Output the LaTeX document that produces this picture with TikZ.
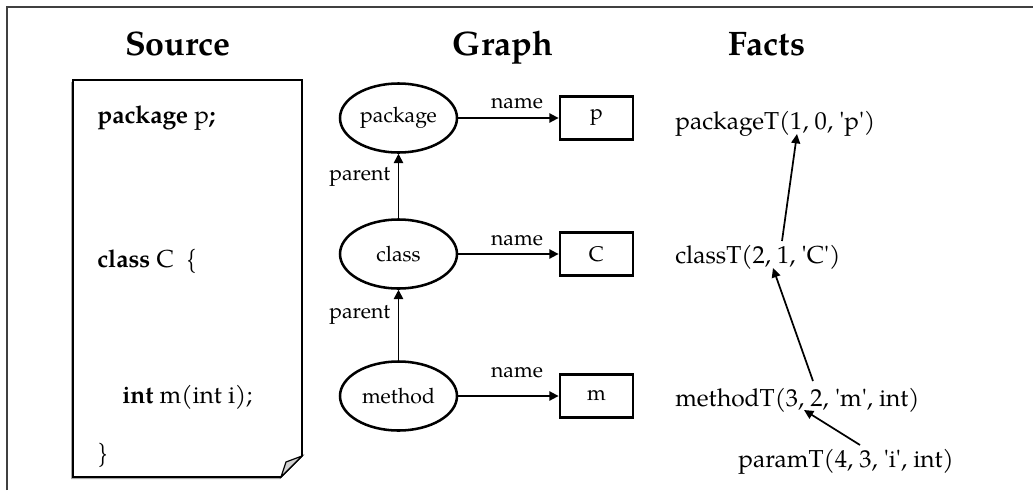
\documentclass[tikz,border=0pt]{standalone}
\usepackage{fontspec}
\setmainfont{texgyrepagella}[Extension=.otf,UprightFont=*-regular,BoldFont=*-bold,ItalicFont=*-italic,BoldItalicFont=*-bolditalic,Ligatures=TeXOff]
\usetikzlibrary{shapes.geometric,arrows.meta}
\newdimen\pxu \pxu=0.75pt
\definecolor{foldgray}{HTML}{D2D2D2}
\definecolor{shadowgray}{HTML}{A8A8A8}
\begin{document}
\begin{tikzpicture}[x=0.75pt,y=-0.75pt,
  ttl/.style={inner sep=0pt, anchor=base, font=\fontsize{25.5}{30}\selectfont\bfseries},
  txt/.style={inner sep=0pt, anchor=base west, font=\fontsize{18.4}{22}\selectfont},
  lbl/.style={inner sep=0pt, font=\fontsize{15.9}{18}\selectfont},
  ent/.style={ellipse, draw, line width=1.9pt, minimum width=117\pxu, minimum height=69\pxu, inner sep=0pt, font=\fontsize{15.9}{18}\selectfont},
  val/.style={rectangle, draw, line width=2.1pt, minimum width=73\pxu, minimum height=43\pxu, inner sep=0pt, font=\fontsize{15.9}{18}\selectfont},
  arr/.style={line width=1.3pt, -{Triangle[length=7pt,width=7pt]}},
  farr/.style={line width=1.3pt, -{Triangle[length=7pt,width=6.6pt]}}]
\useasboundingbox (0,0) rectangle (1033,490);

% outer frame (top and left edges)
\draw[line width=1.6pt, black!75] (7,490) -- (7,7) -- (1033,7);

% titles
\node[ttl] (tsrc) at (178,55) {Source};
\node[ttl] (tgraph) at (503,55) {Graph};
\node[ttl] (tfacts) at (767,55) {Facts};

% source sheet with folded corner
\fill[shadowgray] (71,82) -- (300,82) -- (300,458) -- (279,479) -- (71,479) -- cycle;
\draw[line width=1.3pt, fill=white] (73,80) -- (302,80) -- (302,456) -- (281,477) -- (73,477) -- cycle;
\draw[line width=0.9pt, fill=foldgray] (302,456) -- (286,462) -- (281,477) -- cycle;

\node[txt] (s1) at (97,123) {\textbf{package} p\textbf{;}};
\node[txt] (s2) at (97,267) {\textbf{class} C\ \ \{};
\node[txt] (s3) at (122,403) {\textbf{int} m(int i);};
\node[txt] (s4) at (97,461) {\}};

% graph
\node[ent] (pkg) at (398.5,118) {package};
\node[ent] (cls) at (398.5,254) {class};
\node[ent] (mth) at (398.5,396) {method};
\node[val] (vp) at (596.5,118) {p};
\node[val] (vc) at (596.5,254) {C};
\node[val] (vm) at (596.5,396) {m};

\draw[arr] (pkg) -- (vp);
\draw[arr] (cls) -- (vc);
\draw[arr] (mth) -- (vm);
\draw[arr] (cls) -- (pkg);
\draw[arr] (mth) -- (cls);

\node[lbl, anchor=base] (n1) at (517,108) {name};
\node[lbl, anchor=base] (n2) at (517,245) {name};
\node[lbl, anchor=base] (n3) at (517,377) {name};
\node[lbl, anchor=base west] (p1) at (329,180) {parent};
\node[lbl, anchor=base west] (p2) at (329,318) {parent};

% facts
\node[txt] (fpkg) at (675,129) {packageT(1, 0, 'p')};
\node[txt] (fcls) at (675,263) {classT(2, 1, 'C')};
\node[txt] (fmth) at (675,406) {methodT(3, 2, 'm', int)};
\node[txt] (fpar) at (738,467) {paramT(4, 3, 'i', int)};

\coordinate (c1s) at (782,241);
\coordinate (c1e) at (797,134);
\coordinate (c2s) at (813,381);
\coordinate (c2e) at (773,268);
\coordinate (c3s) at (860,445);
\coordinate (c3e) at (804,410);
\draw[farr] (c1s) -- (c1e);
\draw[farr] (c2s) -- (c2e);
\draw[farr] (c3s) -- (c3e);
\end{tikzpicture}
\end{document}
